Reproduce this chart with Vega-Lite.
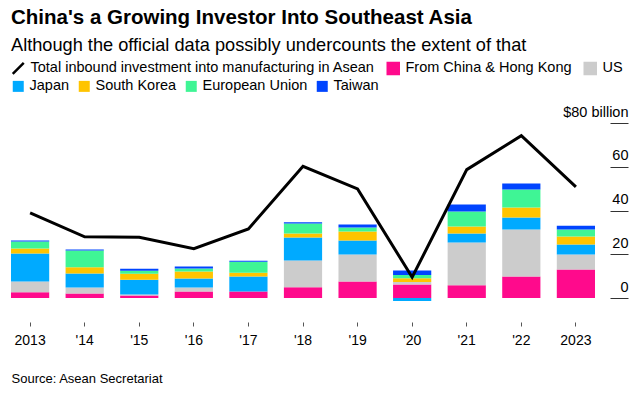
{
  "$schema": "https://vega.github.io/schema/vega-lite/v6.json",
  "width": 584,
  "height": 186,
  "padding": {"left": 11, "right": 14, "top": 8, "bottom": 8},
  "config": {"view": {"stroke": null}, "font": "Liberation Sans"},
  "title": {
    "text": "China's a Growing Investor Into Southeast Asia",
    "subtitle": "Although the official data possibly undercounts the extent of that",
    "anchor": "start",
    "frame": "group",
    "fontSize": 20.5,
    "fontWeight": "bold",
    "color": "#000000",
    "subtitleFontSize": 18.2,
    "subtitleColor": "#000000",
    "subtitlePadding": 8,
    "offset": 7
  },
  "datasets": {
    "bars": [
      {"year": "2013", "source": "From China & Hong Kong", "value": 2.7},
      {"year": "2013", "source": "US", "value": 4.9},
      {"year": "2013", "source": "Japan", "value": 12.8},
      {"year": "2013", "source": "South Korea", "value": 2.3},
      {"year": "2013", "source": "European Union", "value": 3.2},
      {"year": "2013", "source": "Taiwan", "value": 0.4},
      {"year": "2014", "source": "From China & Hong Kong", "value": 2.1},
      {"year": "2014", "source": "US", "value": 2.7},
      {"year": "2014", "source": "Japan", "value": 6.4},
      {"year": "2014", "source": "South Korea", "value": 2.9},
      {"year": "2014", "source": "European Union", "value": 7.6},
      {"year": "2014", "source": "Taiwan", "value": 0.5},
      {"year": "2015", "source": "From China & Hong Kong", "value": 1.2},
      {"year": "2015", "source": "US", "value": 0.4},
      {"year": "2015", "source": "Japan", "value": 6.8},
      {"year": "2015", "source": "South Korea", "value": 2.7},
      {"year": "2015", "source": "European Union", "value": 1.4},
      {"year": "2015", "source": "Taiwan", "value": 0.9},
      {"year": "2016", "source": "From China & Hong Kong", "value": 3.0},
      {"year": "2016", "source": "US", "value": 1.8},
      {"year": "2016", "source": "Japan", "value": 4.1},
      {"year": "2016", "source": "South Korea", "value": 3.2},
      {"year": "2016", "source": "European Union", "value": 1.4},
      {"year": "2016", "source": "Taiwan", "value": 0.9},
      {"year": "2017", "source": "From China & Hong Kong", "value": 3.0},
      {"year": "2017", "source": "US", "value": 0.0},
      {"year": "2017", "source": "Japan", "value": 6.8},
      {"year": "2017", "source": "South Korea", "value": 1.8},
      {"year": "2017", "source": "European Union", "value": 5.0},
      {"year": "2017", "source": "Taiwan", "value": 0.5},
      {"year": "2018", "source": "From China & Hong Kong", "value": 4.9},
      {"year": "2018", "source": "US", "value": 12.3},
      {"year": "2018", "source": "Japan", "value": 10.5},
      {"year": "2018", "source": "South Korea", "value": 1.8},
      {"year": "2018", "source": "European Union", "value": 4.6},
      {"year": "2018", "source": "Taiwan", "value": 0.6},
      {"year": "2019", "source": "From China & Hong Kong", "value": 7.6},
      {"year": "2019", "source": "US", "value": 12.3},
      {"year": "2019", "source": "Japan", "value": 6.4},
      {"year": "2019", "source": "South Korea", "value": 4.1},
      {"year": "2019", "source": "European Union", "value": 1.8},
      {"year": "2019", "source": "Taiwan", "value": 1.4},
      {"year": "2020", "source": "From China & Hong Kong", "value": 6.2},
      {"year": "2020", "source": "US", "value": 1.1},
      {"year": "2020", "source": "Japan", "value": -1.4},
      {"year": "2020", "source": "South Korea", "value": 1.7},
      {"year": "2020", "source": "European Union", "value": 1.5},
      {"year": "2020", "source": "Taiwan", "value": 2.1},
      {"year": "2021", "source": "From China & Hong Kong", "value": 5.8},
      {"year": "2021", "source": "US", "value": 19.6},
      {"year": "2021", "source": "Japan", "value": 4.1},
      {"year": "2021", "source": "South Korea", "value": 3.2},
      {"year": "2021", "source": "European Union", "value": 6.8},
      {"year": "2021", "source": "Taiwan", "value": 3.2},
      {"year": "2022", "source": "From China & Hong Kong", "value": 9.9},
      {"year": "2022", "source": "US", "value": 21.4},
      {"year": "2022", "source": "Japan", "value": 5.5},
      {"year": "2022", "source": "South Korea", "value": 4.6},
      {"year": "2022", "source": "European Union", "value": 8.2},
      {"year": "2022", "source": "Taiwan", "value": 2.7},
      {"year": "2023", "source": "From China & Hong Kong", "value": 13.1},
      {"year": "2023", "source": "US", "value": 6.8},
      {"year": "2023", "source": "Japan", "value": 4.6},
      {"year": "2023", "source": "South Korea", "value": 3.6},
      {"year": "2023", "source": "European Union", "value": 3.2},
      {"year": "2023", "source": "Taiwan", "value": 1.8}
    ],
    "total": [
      {"year": "2013", "series": "Total inbound investment into manufacturing in Asean", "value": 38.9},
      {"year": "2014", "series": "Total inbound investment into manufacturing in Asean", "value": 28.0},
      {"year": "2015", "series": "Total inbound investment into manufacturing in Asean", "value": 27.8},
      {"year": "2016", "series": "Total inbound investment into manufacturing in Asean", "value": 22.6},
      {"year": "2017", "series": "Total inbound investment into manufacturing in Asean", "value": 31.6},
      {"year": "2018", "series": "Total inbound investment into manufacturing in Asean", "value": 60.2},
      {"year": "2019", "series": "Total inbound investment into manufacturing in Asean", "value": 49.9},
      {"year": "2020", "series": "Total inbound investment into manufacturing in Asean", "value": 9.5},
      {"year": "2021", "series": "Total inbound investment into manufacturing in Asean", "value": 58.7},
      {"year": "2022", "series": "Total inbound investment into manufacturing in Asean", "value": 74.2},
      {"year": "2023", "series": "Total inbound investment into manufacturing in Asean", "value": 50.8}
    ]
  },
  "layer": [
    {
      "data": {"name": "bars"},
      "mark": {"type": "bar"},
      "encoding": {
        "x": {
          "field": "year",
          "type": "ordinal",
          "scale": {"paddingInner": 0.3, "paddingOuter": 0},
          "axis": {
            "title": "Source: Asean Secretariat",
            "titleAnchor": "start",
            "titleAlign": "left",
            "titleX": 0,
            "titleFontSize": 13,
            "titleFontWeight": "normal",
            "titleColor": "#000000",
            "titlePadding": 25,
            "labelAngle": 0,
            "labelFontSize": 14,
            "labelColor": "#000000",
            "labelPadding": 7,
            "labelExpr": "datum.label == '2013' || datum.label == '2023' ? datum.label : \"'\" + substring(datum.label, 2)",
            "domain": false,
            "ticks": true,
            "tickSize": 4,
            "tickColor": "#555555",
            "offset": 13
          }
        },
        "y": {
          "field": "value",
          "type": "quantitative",
          "stack": "zero",
          "scale": {"domain": [-5, 80], "nice": false, "zero": false},
          "axis": {
            "orient": "right",
            "title": null,
            "values": [0, 20, 40, 60, 80],
            "domain": false,
            "grid": false,
            "ticks": true,
            "tickSize": 18,
            "tickColor": "#333333",
            "offset": 15,
            "labelAlign": "right",
            "labelBaseline": "alphabetic",
            "labelPadding": 0,
            "labelOffset": -7,
            "labelFlush": false,
            "labelOverlap": false,
            "labelFontSize": 14.5,
            "labelColor": "#000000",
            "labelExpr": "datum.value == 80 ? '$80 billion' : datum.label",
            "encode": {"labels": {"update": {"dy": {"signal": "datum.value == 80 ? -3 : 0"}}}}
          }
        },
        "fill": {
          "field": "source",
          "type": "nominal",
          "scale": {
            "domain": ["Japan", "South Korea", "European Union", "Taiwan", "From China & Hong Kong", "US"],
            "range": ["#00aaff", "#ffc400", "#3ff595", "#0044ff", "#ff0a8c", "#cccccc"]
          },
          "legend": {
            "orient": "none",
            "legendX": 0,
            "legendY": -44,
            "direction": "horizontal",
            "title": null,
            "symbolType": "square",
            "symbolSize": 121,
            "symbolStrokeWidth": 0,
            "labelFontSize": 14.5,
            "labelLimit": 0,
            "labelColor": "#000000",
            "labelOffset": 4,
            "columnPadding": 7,
            "encode": {
              "symbols": {"update": {"opacity": {"signal": "datum.value == 'From China & Hong Kong' || datum.value == 'US' ? 0 : 1"}}},
              "labels": {"update": {"opacity": {"signal": "datum.value == 'From China & Hong Kong' || datum.value == 'US' ? 0 : 1"}}}
            }
          }
        },
        "order": {"field": "year", "type": "ordinal"}
      }
    },
    {
      "data": {"name": "total"},
      "mark": {"type": "line", "strokeWidth": 3, "strokeJoin": "miter"},
      "encoding": {
        "x": {"field": "year", "type": "ordinal"},
        "y": {"field": "value", "type": "quantitative"},
        "stroke": {
          "field": "series",
          "type": "nominal",
          "scale": {
            "domain": ["Total inbound investment into manufacturing in Asean", "From China & Hong Kong", "US"],
            "range": ["#000000", "#ff0a8c", "#cccccc"]
          },
          "legend": {
            "orient": "none",
            "legendX": 0,
            "legendY": -62,
            "direction": "horizontal",
            "title": null,
            "symbolSize": 121,
            "labelFontSize": 14.5,
            "labelLimit": 0,
            "labelColor": "#000000",
            "labelOffset": 5,
            "columnPadding": 7,
            "encode": {
              "symbols": {
                "update": {
                  "shape": {"signal": "datum.value == 'Total inbound investment into manufacturing in Asean' ? 'M-1,1L1,-1' : 'square'"},
                  "fill": {"signal": "datum.value == 'Total inbound investment into manufacturing in Asean' ? 'transparent' : scale('stroke', datum.value)"},
                  "stroke": {"signal": "datum.value == 'Total inbound investment into manufacturing in Asean' ? '#000000' : 'transparent'"},
                  "strokeWidth": {"value": 2.5},
                  "opacity": {"value": 1}
                }
              }
            }
          }
        }
      }
    }
  ]
}
